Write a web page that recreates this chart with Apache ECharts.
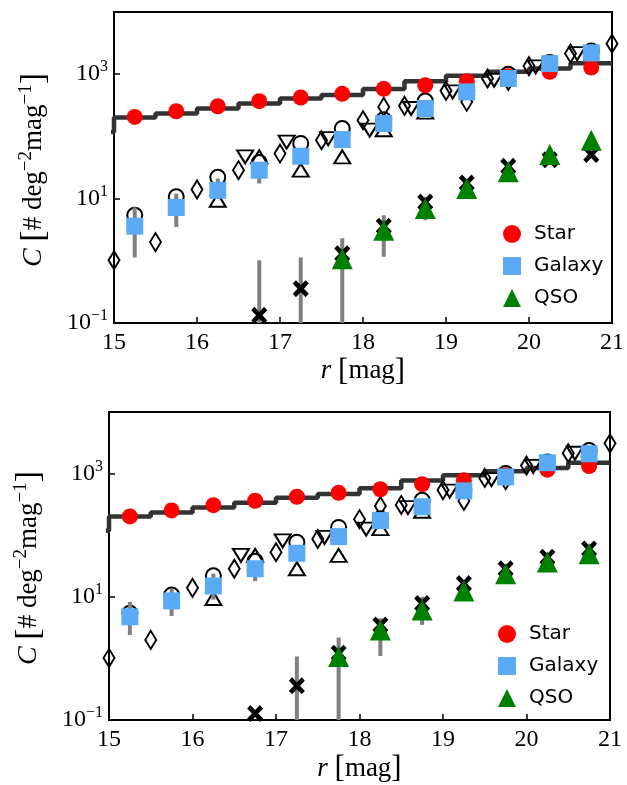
<!DOCTYPE html>
<html>
<head>
<meta charset="utf-8">
<script src="https://cdn.jsdelivr.net/npm/echarts@6/dist/echarts.min.js"></script>
<style>
  html, body { margin: 0; padding: 0; background: #ffffff; }
  #chart { width: 627px; height: 785px; }
</style>
</head>
<body>
<div id="chart"></div>
<script>
// ---- number counts per magnitude bin ----
const binCenters = [15.25, 15.75, 16.25, 16.75, 17.25, 17.75, 18.25, 18.75, 19.25, 19.75, 20.25, 20.75];

// upper panel
const starTop   = [206, 254, 305, 368, 422, 483, 581, 665, 771, 929, 1090, 1280];
const galaxyTop = [3.6, 7.2, 13.6, 28.6, 48, 89, 161, 281, 520, 852, 1480, 2200];
const qsoX      = [17.75, 18.25, 18.75, 19.25, 19.75, 20.25, 20.75];
const qsoTop    = [1.08, 3.1, 6.9, 14.5, 27, 51, 87];
const crossX    = [16.75, 17.25, 17.75, 18.25, 18.75, 19.25, 19.75, 20.25, 20.75];
const crossTop  = [0.133, 0.356, 1.3, 3.6, 8.8, 17.8, 33, 42, 51];
const errXTop   = [15.25, 15.75, 16.25, 16.75, 16.75, 17.25, 17.75, 18.25, 18.75];
const errLoTop  = [1.13, 3.5, 10, 17.5, 0.01, 0.01, 0.01, 1.16, 4.5];
const errHiTop  = [7.2, 12, 21, 30, 1.02, 1.13, 2.3, 5.4, 10.7];

// lower panel
const starBot   = [202, 253, 308, 363, 421, 488, 558, 673, 780, 940, 1160, 1325];
const galaxyBot = [4.75, 8.6, 15, 28.6, 51, 95, 173, 290, 525, 883, 1503, 2100];
const qsoBot    = [1.08, 2.9, 6.1, 12.5, 23.8, 36.7, 50];
const crossBot  = [0.128, 0.36, 1.22, 3.5, 7.8, 16.4, 28.6, 44, 60];
const errXBot   = [15.25, 15.75, 16.25, 16.75, 17.25, 17.75, 18.25, 18.75];
const errLoBot  = [2.4, 4.9, 9, 18, 0.01, 0.01, 1.1, 3.5];
const errHiBot  = [8.3, 13.5, 23.8, 32, 1.08, 2.2, 4.5, 10];

// reference star counts (histogram, value holds from each edge to the next)
const stepEdges  = [14.5, 15.0, 15.5, 16.0, 16.5, 17.0, 17.5, 18.0, 18.5, 19.0, 19.5, 20.0, 20.5, 21.0];
const stepValues = [118, 201, 233, 281, 338, 406, 465, 580, 770, 945, 1090, 1233, 1500, 1500];

// literature counts (open symbols)
const diamondX   = [15.0, 15.5, 16.0, 16.5, 17.0, 17.5, 18.0, 18.5, 19.0, 19.5, 20.0, 20.5, 21.0];
const diamondY   = [1.02, 2.0, 14, 28.6, 53, 87, 182, 310, 540, 852, 1350, 2150, 3100];
const diamond2X  = [18.25, 19.25, 19.75];
const diamond2Y  = [298, 360, 780];
const downTriX   = [16.58, 17.08, 17.58, 18.08, 18.58, 19.08, 19.58, 20.08, 20.58];
const downTriY   = [47, 81, 92, 126, 281, 520, 800, 1310, 2140];
const upTriX     = [16.25, 16.75, 17.25, 17.75, 18.25, 18.75];
const upTriY     = [9.4, 47, 28.6, 47, 128, 245];
const openCircY  = [5.4, 10.7, 22, 38, 77, 134, 185, 370, 550, 1000, 1540, 2370];

const yTitle = '{i|C} {br|[}# deg{s|\u22122}mag{s|\u22121}{br|]}';
const xTitle = '{i|r} {br|[}mag{br|]}';

const zip = (xs, ys) => xs.map((x, i) => [x, ys[i]]);
const zip3 = (xs, a, b) => xs.map((x, i) => [x, a[i], b[i]]);

const crossPath = 'path://M2,0 L5,3 L8,0 L10,2 L7,5 L10,8 L8,10 L5,7 L2,10 L0,8 L3,5 L0,2 Z';
const serif = 'Liberation Serif';

function supLabel(v) {
  const e = Math.round(Math.log10(v));
  return '{b|10}{s|' + (e < 0 ? '\u2212' + (-e) : e) + '}';
}

function panelAxes(i) {
  const xAxis = {
    type: 'value', gridIndex: i, min: 15, max: 21, interval: 1,
    axisLine: { show: true, onZero: false, lineStyle: { color: '#000', width: 2 } },
    axisTick: { show: true, inside: true, length: 6, lineStyle: { color: '#000', width: 1.5 } },
    splitLine: { show: false },
    axisLabel: { margin: 8, color: '#000', fontFamily: serif, fontSize: 24 },
    name: xTitle,
    nameLocation: 'middle', nameGap: 30,
    nameTextStyle: {
      color: '#000',
      rich: {
        i: { fontFamily: serif, fontStyle: 'italic', fontSize: 27, color: '#000' },
        br: { fontFamily: serif, fontSize: 31, color: '#000' }
      },
      fontFamily: serif, fontSize: 27
    }
  };
  const yAxis = {
    type: 'log', gridIndex: i, logBase: 10, min: 0.1, max: 10000, interval: 2,
    axisLine: { show: true, onZero: false, lineStyle: { color: '#000', width: 2 } },
    axisTick: { show: true, inside: true, length: 6, lineStyle: { color: '#000', width: 1.5 } },
    minorTick: { show: false },
    splitLine: { show: false },
    axisLabel: {
      margin: 6, color: '#000', formatter: supLabel, showMaxLabel: false,
      rich: {
        b: { fontFamily: serif, fontSize: 24, lineHeight: 30, color: '#000' },
        s: { fontFamily: serif, fontSize: 16, lineHeight: 16, verticalAlign: 'top', color: '#000' }
      }
    }
  };
  return { xAxis, yAxis };
}

// rotated y-axis title drawn as a graphic text element
function yTitleText(cx, cy) {
  return {
    type: 'text', x: cx, y: cy, rotation: Math.PI / 2, silent: true,
    style: {
      text: yTitle, align: 'center', verticalAlign: 'middle', fill: '#000',
      font: '27px "Liberation Serif"',
      rich: {
        i: { fontFamily: serif, fontStyle: 'italic', fontSize: 28, lineHeight: 34, fill: '#000' },
        br: { fontFamily: serif, fontSize: 34, lineHeight: 34, fill: '#000' },
        s: { fontFamily: serif, fontSize: 19, lineHeight: 19, verticalAlign: 'top', fill: '#000' }
      }
    }
  };
}

function panelSeries(i, star, galaxy, qso, cross, errs) {
  const common = { xAxisIndex: i, yAxisIndex: i, silent: true, animation: false };
  const open = (extra) => Object.assign({
    type: 'scatter', z: 3,
    itemStyle: { color: 'rgba(255,255,255,0)', borderColor: '#000', borderWidth: 2, opacity: 1 }
  }, common, extra);
  return [
    Object.assign({
      type: 'line', name: 'reference', data: zip(stepEdges, stepValues), step: 'end',
      showSymbol: false, symbol: 'none', z: 2, clip: true,
      lineStyle: { color: '#333333', width: 4.5 }
    }, common),
    open({ name: 'lit-circle', symbol: 'circle', symbolSize: 15, data: zip(binCenters, openCircY) }),
    open({ name: 'lit-up', symbol: 'triangle', symbolSize: [16, 13], data: zip(upTriX, upTriY) }),
    open({ name: 'lit-down', symbol: 'triangle', symbolRotate: 180, symbolSize: [16, 13], data: zip(downTriX, downTriY) }),
    open({ name: 'lit-diamond', symbol: 'diamond', symbolSize: [11, 18], data: zip(diamondX, diamondY) }),
    open({ name: 'lit-diamond2', symbol: 'diamond', symbolSize: [11, 18], data: zip(diamond2X, diamond2Y) }),
    Object.assign({
      type: 'custom', name: 'errors', z: 4, clip: true,
      encode: { x: 0, y: [1, 2] },
      data: errs,
      renderItem: function (params, api) {
        const p1 = api.coord([api.value(0), api.value(1)]);
        const p2 = api.coord([api.value(0), api.value(2)]);
        return {
          type: 'line',
          shape: { x1: p1[0], y1: p1[1], x2: p2[0], y2: p2[1] },
          style: { stroke: '#808080', lineWidth: 4 }
        };
      }
    }, common),
    Object.assign({
      type: 'scatter', name: 'cross', symbol: crossPath, symbolSize: [16, 17], z: 5,
      data: zip(crossX, cross), itemStyle: { color: '#000', opacity: 1 }
    }, common),
    Object.assign({
      type: 'scatter', name: 'Star', symbol: 'circle', symbolSize: 16, z: 6,
      data: zip(binCenters, star), itemStyle: { color: '#ff0000', opacity: 1 }
    }, common),
    Object.assign({
      type: 'scatter', name: 'Galaxy', symbol: 'rect', symbolSize: 17, z: 6,
      data: zip(binCenters, galaxy), itemStyle: { color: '#5aaaf5', opacity: 1 }
    }, common),
    Object.assign({
      type: 'scatter', name: 'QSO', symbol: 'triangle', symbolSize: 21, z: 7,
      data: zip(qsoX, qso), itemStyle: { color: '#008000', opacity: 1 }
    }, common)
  ];
}

const a0 = panelAxes(0);
const a1 = panelAxes(1);

function legendAt(left, top) {
  return {
    left: left, top: top, orient: 'vertical', padding: 0, itemGap: 12,
    itemWidth: 18, itemHeight: 18, selectedMode: false,
    textStyle: { fontFamily: 'DejaVu Sans', fontSize: 20, color: '#000', padding: [0, 0, 0, 8] },
    data: [
      { name: 'Star', icon: 'circle' },
      { name: 'Galaxy', icon: 'rect' },
      { name: 'QSO', icon: 'triangle' }
    ]
  };
}

const chart = echarts.init(document.getElementById('chart'), null, { renderer: 'canvas' });
chart.setOption({
  animation: false,
  backgroundColor: '#ffffff',
  grid: [
    { left: 114, top: 12, width: 501, height: 311, show: true, borderColor: '#000', borderWidth: 2, backgroundColor: 'transparent' },
    { left: 109, top: 412, width: 501, height: 310, show: true, borderColor: '#000', borderWidth: 2, backgroundColor: 'transparent' }
  ],
  xAxis: [a0.xAxis, a1.xAxis],
  yAxis: [a0.yAxis, a1.yAxis],
  graphic: [yTitleText(34, 170), yTitleText(29, 568)],
  legend: [legendAt(503, 224), legendAt(498, 624)],
  series: [].concat(
    panelSeries(0, starTop, galaxyTop, qsoTop, crossTop, zip3(errXTop, errLoTop, errHiTop)),
    panelSeries(1, starBot, galaxyBot, qsoBot, crossBot, zip3(errXBot, errLoBot, errHiBot))
  )
});
</script>
</body>
</html>
